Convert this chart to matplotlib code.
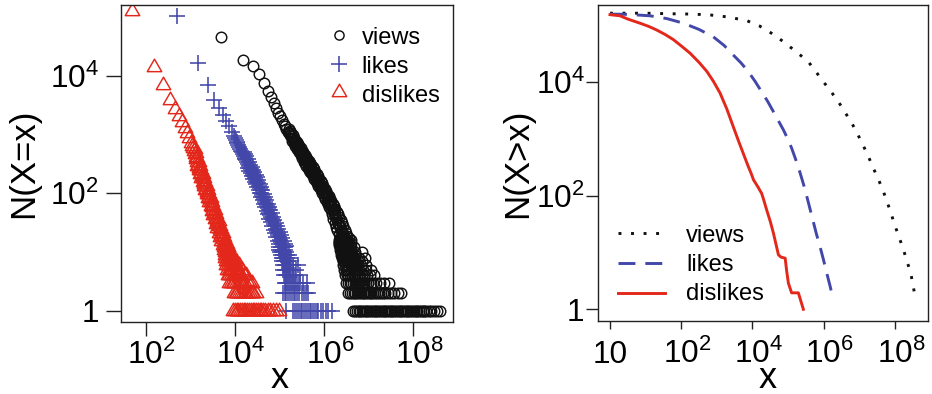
import numpy as np
import matplotlib
matplotlib.use("Agg")
import matplotlib.pyplot as plt
from matplotlib.path import Path
import matplotlib.transforms as mtransforms

plt.rcParams['font.family'] = ['Liberation Sans', 'DejaVu Sans']
plt.rcParams['mathtext.fontset'] = 'custom'
plt.rcParams['mathtext.rm'] = 'Liberation Sans'
plt.rcParams['mathtext.it'] = 'Liberation Sans:italic'
plt.rcParams['mathtext.bf'] = 'Liberation Sans:bold'

# ---------------- data (log10 values) ----------------
series_names = ["views", "likes", "dislikes"]

# ---- left panel: N(X=x)  (log10 x, log10 N) ----
# views: first bins and the centre of the power-law band
views_log_x = [3.70, 4.18, 4.40, 4.54, 4.65, 4.74, 4.81, 4.875, 4.93, 4.98, 5.02, 5.06, 5.10, 5.13, 5.16,
               5.20, 5.22, 5.24, 5.26, 5.28, 5.30, 5.32, 5.34, 5.36, 5.38, 5.40, 5.42, 5.44, 5.46, 5.48,
               5.50, 5.52, 5.54, 5.56, 5.58, 5.60, 5.62, 5.64, 5.66, 5.68, 5.70, 5.72, 5.74, 5.76, 5.78,
               5.80, 5.82, 5.84, 5.86, 5.88, 5.90, 5.92, 5.94, 5.96, 5.98, 6.00, 6.02, 6.04, 6.06, 6.08,
               6.10, 6.12, 6.14, 6.16, 6.18, 6.20, 6.22, 6.24, 6.26, 6.28, 6.30, 6.32, 6.34, 6.36, 6.38,
               6.40, 6.42, 6.44, 6.46]
views_log_n = [4.67, 4.27, 4.17, 4.03, 3.88, 3.75, 3.64, 3.54, 3.45, 3.37, 3.31, 3.25, 3.19, 3.14, 3.10,
               3.05, 3.03, 3.00, 2.98, 2.95, 2.93, 2.90, 2.88, 2.85, 2.83, 2.80, 2.78, 2.75, 2.73, 2.70,
               2.68, 2.65, 2.63, 2.60, 2.58, 2.55, 2.53, 2.50, 2.48, 2.46, 2.43, 2.41, 2.39, 2.36, 2.34,
               2.31, 2.28, 2.26, 2.23, 2.20, 2.18, 2.15, 2.12, 2.10, 2.07, 2.04, 2.01, 1.98, 1.95, 1.92,
               1.89, 1.86, 1.83, 1.80, 1.76, 1.72, 1.69, 1.65, 1.61, 1.58, 1.54, 1.50, 1.46, 1.42, 1.38,
               1.34, 1.30, 1.26, 1.22]
# views: the two edges of the band
views_side_log_x = [5.21, 5.24, 5.27, 5.30, 5.33, 5.36, 5.39, 5.42,
                    5.45, 5.48, 5.51, 5.54, 5.57, 5.60, 5.63, 5.66, 5.69, 5.72, 5.75, 5.78, 5.81, 5.84, 5.87,
                    5.90, 5.93, 5.96, 5.99, 6.02, 6.05, 6.08, 6.11, 6.14, 6.17, 6.20, 6.23, 6.26, 6.29, 6.32,
                    6.35, 6.38, 6.41, 6.44, 6.47, 6.50, 6.53, 6.56, 6.60,
                    5.28, 5.32, 5.36, 5.40, 5.44, 5.48, 5.52,
                    5.55, 5.58, 5.61, 5.64, 5.67, 5.70, 5.73, 5.76, 5.79, 5.82, 5.85, 5.88, 5.91, 5.94, 5.97,
                    6.00, 6.03, 6.06, 6.09, 6.12, 6.15, 6.18, 6.21, 6.24, 6.27, 6.30, 6.33, 6.36]
views_side_log_n = [3.10, 3.06, 3.02, 2.99, 2.95, 2.91, 2.88, 2.84,
                    2.81, 2.77, 2.73, 2.70, 2.66, 2.62, 2.58, 2.55, 2.51, 2.48, 2.45, 2.41, 2.37, 2.33, 2.29,
                    2.25, 2.21, 2.17, 2.12, 2.08, 2.04, 1.99, 1.96, 1.91, 1.87, 1.82, 1.78, 1.73, 1.69, 1.64,
                    1.59, 1.54, 1.49, 1.44, 1.38, 1.33, 1.28, 1.24, 1.20,
                    2.90, 2.85, 2.80, 2.75, 2.70, 2.65, 2.60,
                    2.54, 2.51, 2.47, 2.43, 2.40, 2.36, 2.33, 2.29, 2.25, 2.21, 2.17, 2.13, 2.09, 2.05, 2.00,
                    1.96, 1.91, 1.86, 1.81, 1.76, 1.71, 1.64, 1.57, 1.50, 1.43, 1.37, 1.30, 1.24]
# views tail: integer counts and the log10 x positions shown at each count
views_tail_n = [1, 2, 3, 4, 5, 6, 7, 8, 9, 10, 11, 12, 13, 14, 15, 16]
views_tail_log_x = [
    [6.66, 6.70, 6.74, 6.78, 6.82, 6.86, 6.90, 6.94, 6.98, 7.02, 7.06, 7.10, 7.14, 7.18, 7.22, 7.26,
     7.30, 7.34, 7.38, 7.42, 7.46, 7.50, 7.54, 7.58, 7.62, 7.66, 7.70, 7.74, 7.78, 7.82, 7.86, 7.90,
     7.94, 7.98, 8.02, 8.06, 8.10, 8.14, 8.18, 8.22, 8.26, 8.30, 8.35, 8.40, 8.47, 8.53, 8.61],
    [6.55, 6.59, 6.63, 6.67, 6.71, 6.75, 6.79, 6.83, 6.87, 6.91, 6.95, 6.99, 7.03, 7.07, 7.11, 7.15,
     7.19, 7.23, 7.28, 7.33, 7.38, 7.44, 7.50, 7.58, 7.66, 7.73],
    [6.50, 6.54, 6.58, 6.62, 6.66, 6.70, 6.74, 6.78, 6.82, 6.86, 6.90, 6.95, 7.00, 7.05, 7.11, 7.18,
     7.27, 7.36, 7.46],
    [6.47, 6.51, 6.55, 6.59, 6.63, 6.67, 6.71, 6.75, 6.80, 6.85, 6.90, 6.96, 7.03, 7.12],
    [6.45, 6.49, 6.53, 6.57, 6.61, 6.65, 6.70, 6.75, 6.80, 6.87, 6.95, 7.05],
    [6.43, 6.47, 6.51, 6.55, 6.60, 6.65, 6.70, 6.76, 6.83, 6.95],
    [6.42, 6.46, 6.50, 6.54, 6.59, 6.64, 6.70, 6.77, 6.86],
    [6.40, 6.44, 6.48, 6.53, 6.58, 6.64, 6.71, 6.80, 6.93],
    [6.39, 6.43, 6.47, 6.52, 6.57, 6.63, 6.70],
    [6.38, 6.42, 6.46, 6.51, 6.56, 6.62, 6.70, 6.85],
    [6.37, 6.41, 6.45, 6.50, 6.55, 6.61],
    [6.36, 6.40, 6.44, 6.49, 6.54, 6.60, 6.68],
    [6.35, 6.39, 6.43, 6.48, 6.53, 6.58],
    [6.34, 6.38, 6.42, 6.47, 6.52, 6.62],
    [6.34, 6.38, 6.43, 6.48, 6.55],
    [6.33, 6.37, 6.41, 6.46, 6.52],
]

# likes
likes_log_x = [2.70, 3.18, 3.40, 3.54, 3.65, 3.74, 3.81, 3.875, 3.93, 3.98,
               4.00, 4.02, 4.04, 4.06, 4.08, 4.10, 4.12, 4.14, 4.16, 4.18, 4.20, 4.22, 4.24, 4.26, 4.28,
               4.30, 4.32, 4.34, 4.36, 4.38, 4.40, 4.42, 4.44, 4.46, 4.48, 4.50, 4.52, 4.54, 4.56, 4.58,
               4.60, 4.62, 4.64, 4.66, 4.68, 4.70, 4.72, 4.74, 4.76, 4.78, 4.80, 4.82, 4.84, 4.86, 4.88,
               4.90, 4.92, 4.94, 4.96, 4.98, 5.00, 5.02, 5.04, 5.06, 5.08]
likes_log_n = [5.03, 4.22, 3.85, 3.59, 3.45, 3.33, 3.24, 3.14, 3.05, 2.97,
               2.94, 2.91, 2.88, 2.85, 2.82, 2.79, 2.76, 2.73, 2.70, 2.67, 2.64, 2.61, 2.59, 2.56, 2.53,
               2.50, 2.47, 2.44, 2.41, 2.38, 2.35, 2.32, 2.29, 2.26, 2.23, 2.20, 2.17, 2.13, 2.09, 2.05,
               2.01, 1.98, 1.94, 1.90, 1.86, 1.82, 1.79, 1.75, 1.71, 1.67, 1.63, 1.59, 1.56, 1.52, 1.48,
               1.44, 1.40, 1.36, 1.33, 1.29, 1.25, 1.21, 1.17, 1.14, 1.10]
likes_side_log_x = [4.20, 4.23, 4.26, 4.29, 4.32, 4.35, 4.38, 4.41, 4.44, 4.47, 4.50, 4.53, 4.56, 4.59, 4.62,
                    4.65, 4.68, 4.71, 4.74, 4.77, 4.80, 4.83, 4.86, 4.89, 4.92, 4.95, 4.98, 5.01, 5.04, 5.07,
                    5.10, 5.13, 5.16,
                    4.30, 4.33, 4.36, 4.39, 4.42, 4.45, 4.48, 4.51, 4.54, 4.57, 4.60, 4.63, 4.66, 4.69, 4.72,
                    4.75, 4.78, 4.81, 4.84, 4.87, 4.90, 4.93, 4.96, 4.99]
likes_side_log_n = [2.71, 2.67, 2.63, 2.58, 2.54, 2.49, 2.45, 2.40, 2.36, 2.32, 2.27, 2.22, 2.16, 2.10, 2.05,
                    1.99, 1.93, 1.88, 1.82, 1.77, 1.71, 1.66, 1.60, 1.55, 1.50, 1.45, 1.40, 1.34, 1.29, 1.24,
                    1.19, 1.14, 1.10,
                    2.43, 2.38, 2.34, 2.29, 2.25, 2.20, 2.16, 2.11, 2.06, 2.00, 1.94, 1.88, 1.82, 1.76, 1.70,
                    1.64, 1.57, 1.51, 1.45, 1.38, 1.32, 1.25, 1.19, 1.13]
likes_tail_n = [1, 2, 3, 4, 5, 6, 7, 8, 9, 10, 11, 12]
likes_tail_log_x = [
    [5.16, 5.30, 5.36, 5.40, 5.44, 5.48, 5.52, 5.56, 5.60, 5.64, 5.68, 5.72, 5.76, 5.80, 5.84, 5.88,
     5.93, 5.98, 6.04, 6.10, 6.18],
    [5.08, 5.12, 5.16, 5.20, 5.24, 5.28, 5.32, 5.36, 5.40, 5.45, 5.50, 5.55, 5.60, 5.65],
    [5.12, 5.16, 5.20, 5.24, 5.28, 5.32, 5.37, 5.42, 5.47, 5.54, 5.62],
    [5.10, 5.14, 5.18, 5.22, 5.26, 5.31, 5.36, 5.46],
    [5.09, 5.13, 5.17, 5.21, 5.25, 5.30, 5.38],
    [5.08, 5.12, 5.16, 5.20, 5.24, 5.30, 5.42],
    [5.06, 5.10, 5.14, 5.19, 5.26],
    [5.05, 5.09, 5.13, 5.18, 5.25],
    [5.04, 5.08, 5.12, 5.17, 5.22],
    [5.02, 5.06, 5.10, 5.15],
    [5.00, 5.04, 5.09, 5.13],
    [4.99, 5.03, 5.08, 5.12],
]

# dislikes
dislikes_log_x = [1.70, 2.18, 2.40, 2.54, 2.65, 2.74, 2.81, 2.875, 2.93, 2.98,
                  3.02, 3.04, 3.06, 3.08, 3.10, 3.12, 3.14, 3.16, 3.18, 3.20, 3.22, 3.24, 3.26, 3.28, 3.30,
                  3.32, 3.34, 3.36, 3.38, 3.40, 3.42, 3.44, 3.46, 3.48, 3.50, 3.52, 3.54, 3.56, 3.58, 3.60,
                  3.62, 3.64, 3.66, 3.68, 3.70, 3.72, 3.74, 3.76, 3.78, 3.80]
dislikes_log_n = [5.10, 4.16, 3.85, 3.59, 3.43, 3.31, 3.21, 3.11, 3.02, 2.94,
                  2.86, 2.815, 2.77, 2.72, 2.67, 2.625, 2.58, 2.53, 2.48, 2.435, 2.39, 2.345, 2.30, 2.255, 2.21,
                  2.165, 2.12, 2.075, 2.03, 1.985, 1.94, 1.895, 1.85, 1.805, 1.76, 1.715, 1.67, 1.625, 1.58,
                  1.535, 1.49, 1.445, 1.40, 1.355, 1.31, 1.265, 1.22, 1.175, 1.13, 1.09]
dislikes_side_log_x = [3.10, 3.13, 3.16, 3.19, 3.22, 3.25, 3.28, 3.31, 3.34, 3.37, 3.40, 3.43, 3.46, 3.49,
                       3.52, 3.55, 3.58, 3.61, 3.64, 3.67, 3.70, 3.73, 3.76, 3.79, 3.82, 3.85,
                       3.16, 3.19, 3.22, 3.25, 3.28, 3.31, 3.34, 3.37, 3.40, 3.43, 3.46, 3.49, 3.52, 3.55,
                       3.58, 3.61, 3.64, 3.67, 3.70, 3.73]
dislikes_side_log_n = [2.75, 2.68, 2.61, 2.54, 2.47, 2.40, 2.33, 2.26, 2.19, 2.13, 2.06, 1.99, 1.92, 1.85,
                       1.78, 1.72, 1.65, 1.58, 1.52, 1.45, 1.39, 1.32, 1.26, 1.20, 1.14, 1.08,
                       2.47, 2.40, 2.33, 2.26, 2.19, 2.12, 2.05, 1.99, 1.92, 1.85, 1.78, 1.70, 1.63, 1.56,
                       1.48, 1.41, 1.33, 1.26, 1.19, 1.12]
dislikes_tail_n = [1, 2, 3, 4, 5, 6, 7, 8, 9, 10, 11, 12]
dislikes_tail_log_x = [
    [3.96, 4.00, 4.04, 4.08, 4.12, 4.16, 4.20, 4.24, 4.28, 4.32, 4.36, 4.40, 4.44, 4.48, 4.52, 4.56,
     4.60, 4.64, 4.69, 4.74, 4.80, 4.86, 4.92, 4.99],
    [3.98, 4.02, 4.06, 4.10, 4.14, 4.18, 4.22, 4.26, 4.30, 4.34, 4.38, 4.42, 4.47],
    [3.87, 3.91, 3.95, 3.99, 4.03, 4.07, 4.11, 4.15, 4.19, 4.24, 4.29, 4.34, 4.39],
    [3.84, 3.88, 3.92, 3.96, 4.00, 4.04, 4.09, 4.14, 4.20, 4.26],
    [3.82, 3.86, 3.90, 3.94, 3.98, 4.03, 4.08, 4.17],
    [3.81, 3.85, 3.89, 3.93, 3.98, 4.03, 4.10],
    [3.80, 3.84, 3.88, 3.92, 3.97, 4.02],
    [3.79, 3.83, 3.87, 3.91, 3.97],
    [3.78, 3.82, 3.86, 3.91],
    [3.77, 3.81, 3.85, 3.90],
    [3.76, 3.80, 3.85],
    [3.75, 3.79, 3.84],
]

# ---- right panel: N(X>x)  (log10 x, log10 N) ----
views_ccdf_log_x = [0.0, 1.0, 1.78, 2.3, 2.81, 3.3, 3.84, 4.2, 4.47, 4.75, 5.04, 5.3, 5.57, 5.8, 5.99,
                    6.2, 6.41, 6.6, 6.79, 6.95, 7.10, 7.25, 7.40, 7.55, 7.68, 7.85, 8.01, 8.13, 8.24,
                    8.35, 8.45, 8.52, 8.57]
views_ccdf_log_n = [5.216, 5.215, 5.205, 5.20, 5.185, 5.15, 5.085, 4.99, 4.89, 4.77, 4.63, 4.50, 4.36, 4.17,
                    4.01, 3.84, 3.66, 3.47, 3.28, 3.09, 2.90, 2.70, 2.48, 2.27, 2.07, 1.77, 1.46, 1.25,
                    1.05, 0.83, 0.62, 0.40, 0.19]
likes_ccdf_log_x = [0.0, 0.5, 1.12, 1.6, 2.06, 2.5, 2.90, 3.2, 3.46, 3.68, 3.88, 4.08, 4.26, 4.43, 4.59,
                    4.73, 4.87, 5.0, 5.10, 5.22, 5.34, 5.44, 5.53, 5.62, 5.71, 5.80, 5.90, 6.0, 6.09,
                    6.18, 6.26]
likes_ccdf_log_n = [5.20, 5.195, 5.17, 5.12, 5.04, 4.93, 4.80, 4.65, 4.48, 4.34, 4.19, 4.01, 3.83, 3.66,
                    3.48, 3.32, 3.16, 2.99, 2.84, 2.63, 2.40, 2.19, 1.98, 1.76, 1.54, 1.32, 1.10, 0.86,
                    0.63, 0.41, 0.20]
dislikes_ccdf_log_x = [0.0, 0.28, 0.51, 0.84, 1.1, 1.31, 1.55, 1.78, 2.0, 2.25, 2.5, 2.72, 2.9, 3.09, 3.28,
                       3.46, 3.6, 3.74, 3.88, 3.96, 4.03, 4.15, 4.26, 4.33, 4.40, 4.50, 4.59, 4.66, 4.73,
                       4.80, 4.92, 4.96, 5.01, 5.10, 5.29, 5.43]
dislikes_ccdf_log_n = [5.19, 5.17, 5.11, 5.04, 4.98, 4.92, 4.84, 4.75, 4.64, 4.51, 4.35, 4.19, 4.02, 3.81,
                       3.53, 3.22, 2.98, 2.75, 2.52, 2.40, 2.28, 2.16, 2.04, 1.90, 1.75, 1.55, 1.34, 1.15,
                       0.96, 0.92, 0.90, 0.68, 0.46, 0.29, 0.29, 0.0]

x_tick_left = [1e2, 1e4, 1e6, 1e8]
x_tick_left_labels = [r'$\mathregular{10^{2}}$', r'$\mathregular{10^{4}}$',
                      r'$\mathregular{10^{6}}$', r'$\mathregular{10^{8}}$']
x_tick_right = [1e0, 1e2, 1e4, 1e6, 1e8]
x_tick_right_labels = ['10', r'$\mathregular{10^{2}}$', r'$\mathregular{10^{4}}$',
                       r'$\mathregular{10^{6}}$', r'$\mathregular{10^{8}}$']
y_ticks = [1, 1e2, 1e4]
y_tick_labels = ['1', r'$\mathregular{10^{2}}$', r'$\mathregular{10^{4}}$']

# ---------------- styling ----------------
C_VIEWS = '#111111'
C_LIKES = '#4247A9'
C_DISLIKES = '#E3281B'
TICK_FS = 22.7
LABEL_FS = 25
LEG_FS = 17
tri = Path([(0, 1), (-0.866, -0.5), (0.866, -0.5), (0, 1)],
           [Path.MOVETO, Path.LINETO, Path.LINETO, Path.CLOSEPOLY])

W, H = 932, 394
fig = plt.figure(figsize=(W / 100, H / 100), dpi=100)
ax1 = fig.add_axes([121 / W, 1 - 322 / H, 332 / W, 317 / H])
ax2 = fig.add_axes([597.7 / W, 1 - 321 / H, 330.3 / W, 316 / H])


def pw(v):
    return np.power(10.0, np.asarray(v, dtype=float))


def tail_points(levels, xs):
    lx = []
    n = []
    for lev, row in zip(levels, xs):
        lx.extend(row)
        n.extend([lev] * len(row))
    return pw(lx), np.asarray(n, dtype=float)


mk_views = dict(marker='o', ms=7.6, mfc='none', mec=C_VIEWS, mew=1.05, ls='none')
mk_likes = dict(marker='+', ms=11.5, mec=C_LIKES, mew=1.15, ls='none')
mk_dislikes = dict(marker=tri, ms=12, mfc='none', mec=C_DISLIKES, mew=1.05, ls='none')

panels = [
    (views_log_x, views_log_n, views_side_log_x, views_side_log_n, views_tail_n, views_tail_log_x, mk_views),
    (likes_log_x, likes_log_n, likes_side_log_x, likes_side_log_n, likes_tail_n, likes_tail_log_x, mk_likes),
    (dislikes_log_x, dislikes_log_n, dislikes_side_log_x, dislikes_side_log_n, dislikes_tail_n,
     dislikes_tail_log_x, mk_dislikes),
]
for bx, bn, sx, sn, tn, tx, mk in panels:
    ax1.plot(pw(bx), pw(bn), **mk)
    ax1.plot(pw(sx), pw(sn), **mk)
    px_, pn_ = tail_points(tn, tx)
    ax1.plot(px_, pn_, **mk)

ax2.plot(pw(views_ccdf_log_x), pw(views_ccdf_log_n), color=C_VIEWS, lw=2.1,
         ls=(0, (1, 3.3)), dash_capstyle='butt')
ax2.plot(pw(likes_ccdf_log_x), pw(likes_ccdf_log_n), color=C_LIKES, lw=2.1,
         ls=(0, (5.8, 3.4)), dash_capstyle='butt')
ax2.plot(pw(dislikes_ccdf_log_x), pw(dislikes_ccdf_log_n), color=C_DISLIKES, lw=2.1)

for ax in (ax1, ax2):
    ax.set_xscale('log')
    ax.set_yscale('log')
    for s in ax.spines.values():
        s.set_linewidth(1.0)
        s.set_color('#222222')

ax1.set_xlim(10 ** 1.446, 10 ** 8.9)
ax1.set_ylim(10 ** -0.193, 10 ** 5.21)
ax2.set_xlim(10 ** -0.345, 10 ** 8.93)
ax2.set_ylim(10 ** -0.206, 10 ** 5.36)

ax1.set_xticks(x_tick_left, labels=x_tick_left_labels)
ax2.set_xticks(x_tick_right, labels=x_tick_right_labels)
for ax in (ax1, ax2):
    ax.set_yticks(y_ticks, labels=y_tick_labels)
    ax.minorticks_off()

ax1.tick_params(axis='x', length=10, width=1, pad=20.4, labelsize=TICK_FS, color='#222222')
ax1.tick_params(axis='y', length=11, width=1, pad=5, labelsize=TICK_FS, color='#222222')
ax2.tick_params(axis='x', length=6, width=1, pad=24.5, labelsize=TICK_FS, color='#222222')
ax2.tick_params(axis='y', length=9, width=1, pad=0.5, labelsize=TICK_FS, color='#222222')

for ax in (ax1, ax2):
    for lab in ax.get_xticklabels():
        lab.set_va('baseline')
        if '^' in lab.get_text():
            off = mtransforms.ScaledTranslation(6 / 100, 0, fig.dpi_scale_trans)
            lab.set_transform(lab.get_transform() + off)

ax1.set_xlabel('x', fontsize=LABEL_FS + 1, va='baseline')
ax1.xaxis.set_label_coords((280 - 121) / 332, (322 - 387.5) / 317)
ax2.set_xlabel('x', fontsize=LABEL_FS + 1, va='baseline')
ax2.xaxis.set_label_coords((767.7 - 597.7) / 330.3, (321 - 387.5) / 316)
ax1.set_ylabel('N(X=x)', fontsize=LABEL_FS, va='baseline')
ax1.yaxis.set_label_coords((33.3 - 121) / 332, 0.5)
ax2.set_ylabel('N(X>x)', fontsize=LABEL_FS, va='baseline')
ax2.yaxis.set_label_coords((527 - 597.7) / 330.3, 0.5)

# legends (placed by hand to match the reference)
leg_mk = [dict(mk_views, ms=6.6), mk_likes, mk_dislikes]
leg_y = [0.9054, 0.8139, 0.7256]
leg_ty = [0.8785, 0.7861, 0.694]
for name, mk, y, ty in zip(series_names, leg_mk, leg_y, leg_ty):
    ax1.plot([0.6575], [y], transform=ax1.transAxes, clip_on=False, **mk)
    ax1.text(0.725, ty, name, transform=ax1.transAxes, fontsize=LEG_FS, va='baseline', ha='left')

leg2_styles = [dict(color=C_VIEWS, lw=2.1, ls=(0, (1, 3.3)), dash_capstyle='butt'),
               dict(color=C_LIKES, lw=2.1, ls=(0, (5.8, 3.4)), dash_capstyle='butt'),
               dict(color=C_DISLIKES, lw=2.1)]
leg2_y = [0.2775, 0.1826, 0.0896]
leg2_ty = [0.251, 0.159, 0.0665]
for name, st, y, ty in zip(series_names, leg2_styles, leg2_y, leg2_ty):
    ax2.plot([0.0624, 0.2038], [y, y], transform=ax2.transAxes, **st)
    ax2.text(0.2673, ty, name, transform=ax2.transAxes, fontsize=LEG_FS, va='baseline', ha='left')

fig.savefig('out.png', dpi=100)
